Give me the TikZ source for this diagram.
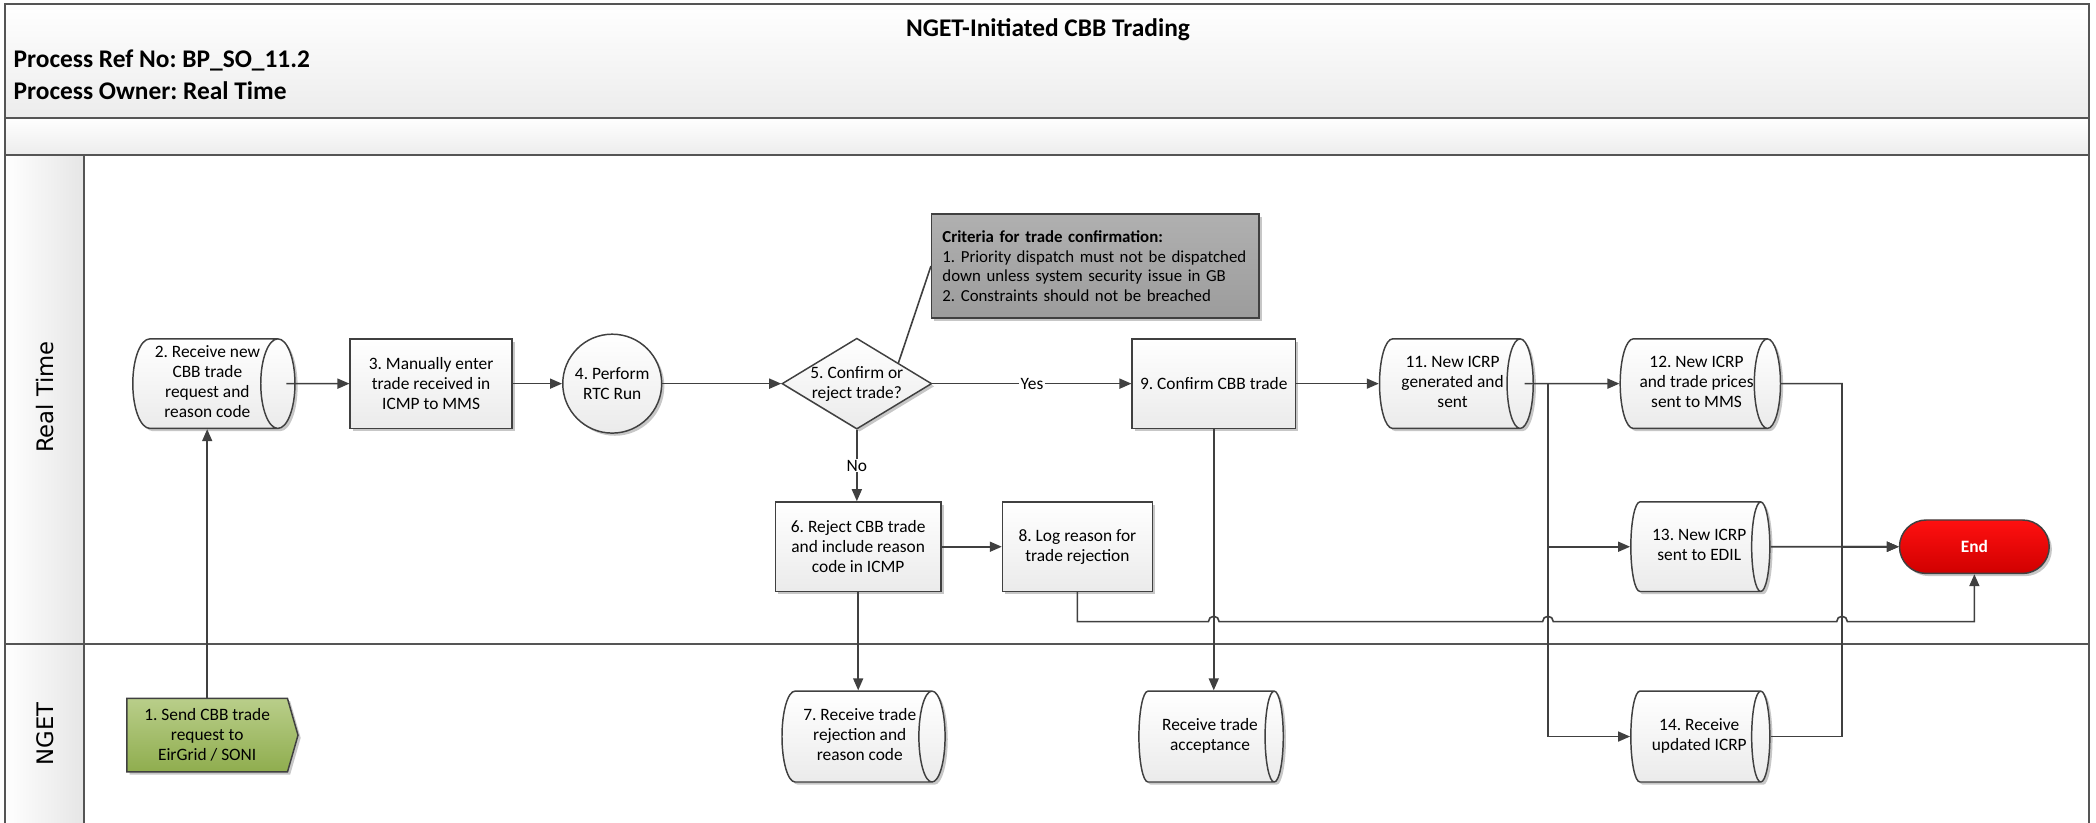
\documentclass[tikz,border=0pt]{standalone}
\usepackage{fontspec}
\setmainfont{Carlito}
\newfontfamily\lanefont{DejaVu Sans}
\usetikzlibrary{shapes.geometric,shapes.symbols,arrows.meta,shadows,calc}
\definecolor{ln}{HTML}{404040}
\definecolor{frm}{HTML}{555555}
\definecolor{hdrb}{HTML}{ECECEC}
\definecolor{notetop}{HTML}{B0B0B0}
\definecolor{notebot}{HTML}{9C9C9C}
\definecolor{greentop}{HTML}{B9CE8A}
\definecolor{greenbot}{HTML}{8FAD4E}
\definecolor{redtop}{HTML}{FF1010}
\definecolor{redbot}{HTML}{D00000}
\newcommand\dstxt[1]{\hspace*{8pt}\begin{tabular}{@{}c@{}}#1\end{tabular}}
\tikzset{
  shd/.style={drop shadow={shadow xshift=2pt,shadow yshift=-2pt,opacity=0.22,fill=black}},
  txt/.style={font=\fontsize{13}{15}\selectfont},
  base/.style={draw=ln, line width=1.1pt, top color=white, bottom color=gray!16, shd, txt, align=center, inner sep=2pt},
  procbox/.style={base, rectangle, minimum width=#1, minimum height=67pt},
  dstore/.style={base, cylinder, shape aspect=0.4, minimum height=#1, minimum width=67pt, inner xsep=0pt, anchor=shape center},
  conn/.style={draw=ln, line width=1.2pt},
  arr/.style={conn, -{Triangle[length=9pt,width=7.5pt]}},
  lbl/.style={fill=white, inner sep=1pt, txt},
  lane/.style={rotate=90, font=\lanefont\fontsize{17}{20}\selectfont},
}
\begin{document}
\frenchspacing
\begin{tikzpicture}[x=1pt,y=-1pt]
\useasboundingbox (0,0) rectangle (1568,615);
% frame and bands
\path[top color=white, bottom color=hdrb] (4,3) rectangle (1563,88);
\path[top color=white, bottom color=hdrb] (4,88) rectangle (1563,116);
\path[left color=white, right color=gray!20] (4,116) rectangle (63,615);
\draw[frm, line width=1.4pt] (4,616) -- (4,3) -- (1563,3) -- (1563,616);
\draw[frm, line width=1.4pt] (4,88) -- (1563,88);
\draw[frm, line width=1.4pt] (4,116) -- (1563,116);
\draw[frm, line width=1.2pt] (63,116) -- (63,616);
\draw[frm, line width=1.4pt] (4,482) -- (1563,482);
% header texts
\node[font=\bfseries\fontsize{19}{22}\selectfont] (title) at (784,22) {NGET-Initiated CBB Trading};
\node[anchor=west, font=\bfseries\fontsize{19}{22}\selectfont, inner sep=0pt] (ref) at (10,45) {Process Ref No: BP\_SO\_11.2};
\node[anchor=west, font=\bfseries\fontsize{19}{22}\selectfont, inner sep=0pt] (own) at (10,68) {Process Owner: Real Time};
\node[lane] (lrt) at (34,297) {Real Time};
\node[lane] (lng) at (34,549) {NGET};
% nodes
\node[dstore=118pt] (n2) at (160,287) {\dstxt{2. Receive new\\CBB trade\\request and\\reason code}};
\node[procbox=121pt] (n3) at (322.5,287) {3. Manually enter\\trade received in\\ICMP to MMS};
\node[base, circle, minimum size=74pt] (n4) at (458,287) {4. Perform\\RTC Run};
\node[base, diamond, minimum width=112pt, minimum height=68pt, inner sep=0pt,
      label={[txt, align=center]center:5. Confirm or\\reject trade?}] (n5) at (641,287) {};
\node[draw=ln, line width=1.1pt, top color=notetop, bottom color=notebot, shd,
      minimum width=245pt, minimum height=78pt, text width=229pt, align=left,
      font=\fontsize{12.6}{14.7}\selectfont] (note) at (819.5,199)
  {\textbf{Criteria for trade confirmation:}\\1. Priority dispatch must not be dispatched\\down unless system security issue in GB\\2. Constraints should not be breached};
\node[procbox=122pt] (n9) at (908,287) {9. Confirm CBB trade};
\node[dstore=115pt] (n11) at (1089.5,287) {\dstxt{11. New ICRP\\generated and\\sent}};
\node[dstore=102pt] (n12) at (1272,287) {\dstxt{12. New ICRP\\and trade prices\\sent to MMS}};
\node[dstore=104pt] (n13) at (1272,409) {\dstxt{13. New ICRP\\sent to EDIL}};
\node[draw=ln, line width=1.1pt, top color=redtop, bottom color=redbot, shd, rectangle,
      rounded corners=20pt, minimum width=112pt, minimum height=40pt, text=white,
      font=\bfseries\fontsize{13}{15}\selectfont] (end) at (1477,409) {End};
\node[procbox=124pt] (n6) at (642,409) {6. Reject CBB trade\\and include reason\\code in ICMP};
\node[procbox=112pt] (n8) at (806,409) {8. Log reason for\\trade rejection};
\node[dstore=122pt, minimum width=68pt] (n7) at (646,551) {\dstxt{7. Receive trade\\rejection and\\reason code}};
\node[dstore=108pt, minimum width=68pt] (nacc) at (906,551) {\dstxt{Receive trade\\acceptance}};
\node[dstore=104pt, minimum width=68pt] (n14) at (1272,551) {\dstxt{14. Receive\\updated ICRP}};
\node[draw=ln, line width=1.1pt, top color=greentop, bottom color=greenbot, shd, txt, align=center,
      signal, signal to=east, signal pointer angle=148, minimum width=128pt, minimum height=55pt, inner sep=2pt]
      (n1) at (155,550) {1. Send CBB trade\\request to\\EirGrid / SONI};
% connectors
\coordinate (j1) at (1158,287);
\coordinate (j2) at (1378,287);
\coordinate (h) at (0,465);
\draw[arr] (n1.north) -- (n1.north |- n2.south);
\draw[arr] ([xshift=-7pt]n2.east) -- (n3.west);
\draw[arr] (n3.east) -- (n4.west);
\draw[arr] (n4.east) -- (n5.west);
\draw[arr] (n5.east) -- node[lbl] {Yes} (n9.west);
\draw[arr] (n5.south) -- node[lbl] {No} (n5.south |- n6.north);
\draw[conn] ($(n5.north)!0.55!(n5.east)$) -- (note.west);
\draw[arr] (n9.east) -- (n11.west);
\draw[arr] ([xshift=-7pt]n11.east) -- (n12.west);
\draw[arr] (j1) |- (n13.west);
\draw[arr] (j1) |- (n14.west);
\draw[arr] (n12.east) -- (j2) |- (end.west);
\draw[arr] (n14.east) -- (n14.east -| j2) |- (end.west);
\draw[arr] (n13.east) -- (end.west);
\draw[arr] (n6.east) -- (n8.west);
\draw[arr] (n6.south) -- (n6.south |- n7.north);
\draw[arr] (n9.south) -- (n9.south |- nacc.north);
\draw[arr] (n8.south) |- (904,465) arc[start angle=180,end angle=360,radius=4]
  -- (1154,465) arc[start angle=180,end angle=360,radius=4]
  -- (1374,465) arc[start angle=180,end angle=360,radius=4]
  -- (end.south |- h) -- (end.south);
\end{tikzpicture}
\end{document}
